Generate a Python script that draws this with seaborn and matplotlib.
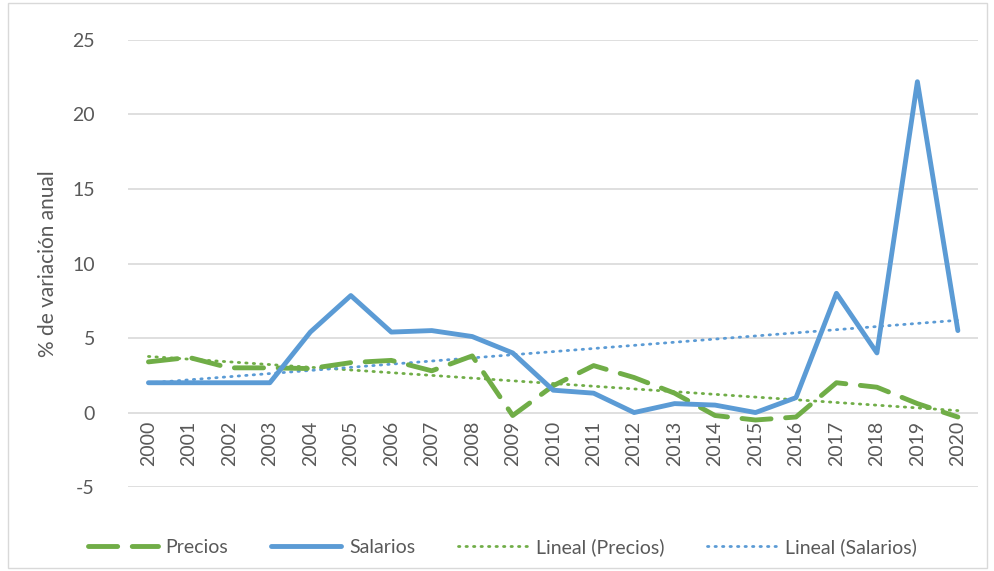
import numpy as np
import pandas as pd
import matplotlib.pyplot as plt
import seaborn as sns
from matplotlib.patches import Rectangle

# Data
years = [str(y) for y in range(2000, 2021)]
precios = [3.4, 3.7, 3.0, 3.0, 2.95, 3.35, 3.5, 2.8, 3.8, -0.2, 1.8,
           3.15, 2.35, 1.3, -0.2, -0.5, -0.3, 2.0, 1.7, 0.6, -0.3]
salarios = [2.0, 2.0, 2.0, 2.0, 5.4, 7.85, 5.4, 5.5, 5.1, 4.0, 1.5,
            1.3, 0.0, 0.6, 0.5, 0.0, 1.0, 8.0, 4.0, 22.2, 5.5]
y_ticks = [-5, 0, 5, 10, 15, 20, 25]

green = "#70AD47"
blue = "#5B9BD5"

sns.set_style("white")
plt.rcParams["font.family"] = ["Lato", "DejaVu Sans"]
plt.rcParams["axes.unicode_minus"] = False

df = pd.DataFrame({"year": years, "Precios": precios, "Salarios": salarios})
df["x"] = np.arange(len(years))

# linear trend lines (like Excel's "Lineal")
tp = np.polyval(np.polyfit(df["x"], df["Precios"], 1), df["x"])
ts = np.polyval(np.polyfit(df["x"], df["Salarios"], 1), df["x"])

fig = plt.figure(figsize=(9.94, 5.71), dpi=100)
ax = fig.add_axes([0.129, 0.147, 0.855, 0.783])

for yv in y_ticks:
    ax.axhline(yv, color="#d9d9d9", lw=1.2, zorder=0)

sns.lineplot(x=df["x"], y=df["Precios"], ax=ax, color=green, lw=3.5,
             label="Precios", zorder=3)
ax.lines[-1].set_dashes([6, 3])
ax.lines[-1].set_dash_capstyle("round")
sns.lineplot(x=df["x"], y=df["Salarios"], ax=ax, color=blue, lw=3.5,
             label="Salarios", zorder=4)
ax.plot(df["x"], tp, color=green, lw=2, ls=(0, (0.5, 2.2)),
        dash_capstyle="round", label="Lineal (Precios)", zorder=2)
ax.plot(df["x"], ts, color=blue, lw=2, ls=(0, (0.5, 2.2)),
        dash_capstyle="round", label="Lineal (Salarios)", zorder=2)

ax.set_xlim(-0.5, 20.5)
ax.set_ylim(-5, 25)
ax.spines["bottom"].set_position(("data", 0))
for s in ax.spines.values():
    s.set_visible(False)
ax.set_yticks(y_ticks)
ax.set_xticks(df["x"])
ax.set_xticklabels(years, rotation=90)
ax.tick_params(axis="both", length=0, labelsize=14, colors="#595959")
ax.tick_params(axis="x", pad=6)
ax.tick_params(axis="y", pad=24)
ax.set_xlabel("")
ax.set_ylabel("% de variación anual", fontsize=15, color="#595959", labelpad=10)

ax.legend(loc="upper center", bbox_to_anchor=(0.44, -0.075), ncol=4,
          frameon=False, fontsize=14, labelcolor="#595959",
          handlelength=3.6, columnspacing=2.2, handletextpad=0.4)

fig.patches.append(Rectangle((0.008, 0.005), 0.985, 0.99, transform=fig.transFigure,
                             fill=False, edgecolor="#d9d9d9", lw=1))

fig.savefig("out.png", dpi=100)
